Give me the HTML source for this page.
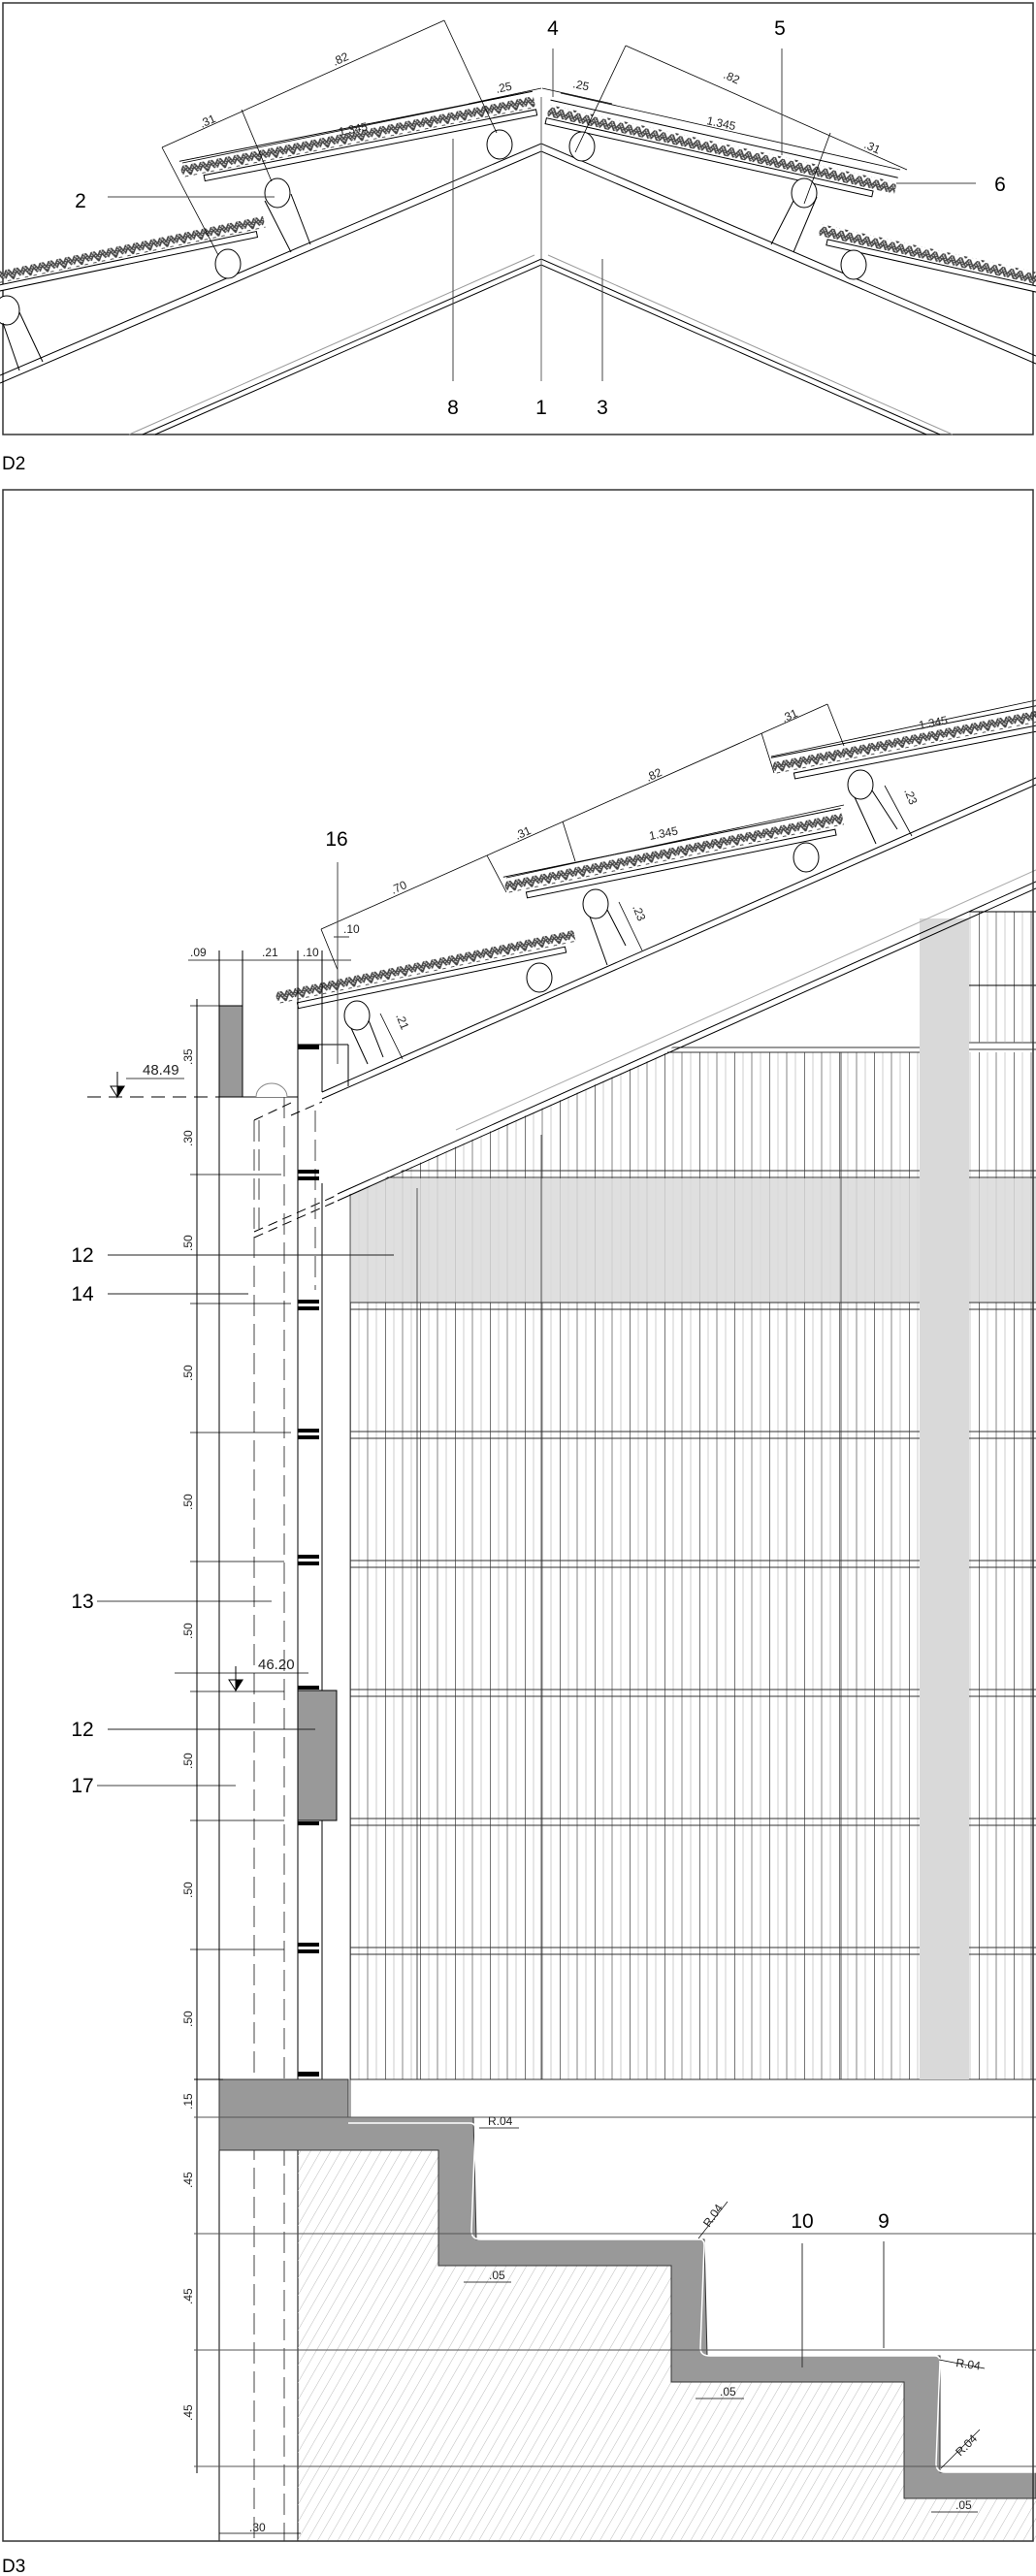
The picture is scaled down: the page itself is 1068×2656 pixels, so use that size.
<!DOCTYPE html>
<html><head><meta charset="utf-8"><style>
html,body{margin:0;padding:0;background:#fff;}
svg{display:block;font-family:"Liberation Sans",sans-serif;}
</style></head><body>
<svg width="1068" height="2656" viewBox="0 0 1068 2656" xmlns="http://www.w3.org/2000/svg">
<defs>
<pattern id="corr" width="18" height="12" patternUnits="userSpaceOnUse">
<path d="M0,9 L4.5,2 L9,9 L13.5,2 L18,9" fill="none" stroke="#444" stroke-width="4.5"/>
<path d="M0,9 L4.5,2 L9,9 L13.5,2 L18,9" fill="none" stroke="#ddd" stroke-width="1.5" stroke-dasharray="1.2 1.2"/>
</pattern>
<pattern id="hatch" width="9" height="9" patternUnits="userSpaceOnUse" patternTransform="rotate(30)">
<line x1="0" y1="0" x2="0" y2="9" stroke="#aaa" stroke-width="0.8"/>
</pattern>
<pattern id="slats" x="361" width="36" height="10" patternUnits="userSpaceOnUse">
<line x1="0.5" y1="0" x2="0.5" y2="10" stroke="#666" stroke-width="0.9"/>
<line x1="9" y1="0" x2="9" y2="10" stroke="#aaa" stroke-width="0.6"/>
<line x1="18" y1="0" x2="18" y2="10" stroke="#666" stroke-width="0.8"/>
<line x1="27" y1="0" x2="27" y2="10" stroke="#aaa" stroke-width="0.6"/>
</pattern>
</defs>
<g fill="none" stroke="#000" stroke-width="1">

<!-- ========== D2 ========== -->
<rect x="3" y="3" width="1062" height="445" stroke="#333" stroke-width="1.5"/>
<polyline points="0,387 558,148 1068,367"/>
<polyline points="0,395 558,156 1068,375"/>
<polyline points="133,448 551,263" stroke="#999"/>
<polyline points="565,263 982,448" stroke="#999"/>
<polyline points="147,448 558,267 969,448"/>
<polyline points="160,448 558,273 955,448"/>
<line x1="558" y1="100" x2="558" y2="393" stroke="#666"/>
<g transform="translate(188,182) rotate(-11.2)"><rect x="0" y="-11" width="371" height="12" fill="url(#corr)" stroke="none"/><line x1="0" y1="-16" x2="371" y2="-16"/><rect x="22" y="3" width="349" height="6" fill="#fff"/></g>
<g transform="translate(-30,297) rotate(-11.8)"><rect x="0" y="-11" width="310" height="12" fill="url(#corr)" stroke="none"/><rect x="0" y="3" width="300" height="6" fill="#fff"/></g>
<g transform="translate(566,110) rotate(12.6)"><rect x="0" y="-2" width="367" height="12" fill="url(#corr)" stroke="none"/><line x1="0" y1="-7" x2="367" y2="-7"/><rect x="0" y="12" width="345" height="6" fill="#fff"/></g>
<g transform="translate(846,233) rotate(12.6)"><rect x="0" y="-2" width="260" height="12" fill="url(#corr)" stroke="none"/><rect x="10" y="12" width="260" height="6" fill="#fff"/></g>
<g fill="#fff">
<ellipse cx="515" cy="149" rx="13" ry="15"/><ellipse cx="600" cy="151" rx="13" ry="15"/>
<ellipse cx="286" cy="199" rx="13" ry="15"/><ellipse cx="829" cy="199" rx="13" ry="15"/>
<ellipse cx="235" cy="272" rx="13" ry="15"/><ellipse cx="880" cy="273" rx="13" ry="15"/>
<ellipse cx="7" cy="320" rx="13" ry="15"/>
</g>
<line x1="273" y1="207" x2="300" y2="260"/><line x1="300" y1="200" x2="320" y2="252"/>
<line x1="818" y1="207" x2="795" y2="252"/><line x1="842" y1="203" x2="818" y2="260"/>
<line x1="3" y1="333" x2="20" y2="382"/><line x1="20" y1="322" x2="44" y2="373"/>
<g stroke-width="0.8">
<line x1="167" y1="152" x2="458" y2="21"/>
<line x1="458" y1="21" x2="512" y2="137"/>
<line x1="167" y1="152" x2="225" y2="263"/>
<line x1="249" y1="113" x2="280" y2="187"/>
<line x1="483" y1="107" x2="558" y2="91"/><line x1="559" y1="91" x2="631" y2="107"/>
<line x1="645" y1="47" x2="935" y2="175"/>
<line x1="645" y1="47" x2="593" y2="157"/>
<line x1="856" y1="137" x2="829" y2="210"/>
<line x1="188" y1="168" x2="540" y2="96"/>
<line x1="578" y1="96" x2="928" y2="175"/>
</g>
<g stroke="#444">
<line x1="570" y1="50" x2="570" y2="100"/>
<line x1="806" y1="50" x2="806" y2="160"/>
<line x1="924" y1="189" x2="1006" y2="189"/>
<line x1="111" y1="203" x2="283" y2="203"/>
<line x1="467" y1="143" x2="467" y2="393"/>
<line x1="621" y1="267" x2="621" y2="393"/>
</g>
</g>
<g font-size="12" fill="#222">
<text transform="translate(208,132) rotate(-24)">.31</text>
<text transform="translate(345,68) rotate(-24)">.82</text>
<text transform="translate(350,140) rotate(-11)">1.345</text>
<text transform="translate(512,96) rotate(-12)">.25</text>
<text transform="translate(590,90) rotate(12)">.25</text>
<text transform="translate(745,80) rotate(24)">.82</text>
<text transform="translate(728,128) rotate(12)">1.345</text>
<text transform="translate(890,152) rotate(24)">.31</text>
</g>
<g font-size="21" fill="#000" text-anchor="middle">
<text x="570" y="36">4</text><text x="804" y="36">5</text><text x="1031" y="197">6</text>
<text x="83" y="214">2</text><text x="467" y="427">8</text><text x="558" y="427">1</text><text x="621" y="427">3</text>
</g>
<text x="2" y="484" font-size="19">D2</text>

<!-- ========== D3 ========== -->
<g fill="none" stroke="#000" stroke-width="1">
<polygon points="361,1231 688,1085 948,1085 948,2144 361,2144" fill="url(#slats)" stroke="none"/>
<rect x="999" y="1085" width="69" height="1059" fill="url(#slats)" stroke="none"/>
<rect x="361" y="1215" width="587" height="128" fill="#d9d9d9" opacity="0.85" stroke="none"/>
<rect x="999" y="1215" width="69" height="128" fill="#d9d9d9" opacity="0.85" stroke="none"/>
<g stroke="#555">
<line x1="430" y1="1225" x2="430" y2="2144"/><line x1="558" y1="1170" x2="558" y2="2144"/>
<line x1="867" y1="1085" x2="867" y2="2144"/><line x1="361" y1="1231" x2="361" y2="2183"/>
</g>
<g stroke="#333">
<line x1="688" y1="1080" x2="948" y2="1080"/><line x1="688" y1="1085" x2="948" y2="1085"/>
<line x1="999" y1="1075" x2="1068" y2="1075"/><line x1="999" y1="1082" x2="1068" y2="1082"/>
<line x1="395" y1="1207" x2="1068" y2="1207"/><line x1="380" y1="1214" x2="1068" y2="1214"/>
<line x1="361" y1="1343" x2="1068" y2="1343"/><line x1="361" y1="1350" x2="1068" y2="1350"/>
<line x1="361" y1="1476" x2="1068" y2="1476"/><line x1="361" y1="1483" x2="1068" y2="1483"/>
<line x1="361" y1="1609" x2="1068" y2="1609"/><line x1="361" y1="1616" x2="1068" y2="1616"/>
<line x1="361" y1="1742" x2="1068" y2="1742"/><line x1="361" y1="1749" x2="1068" y2="1749"/>
<line x1="361" y1="1875" x2="1068" y2="1875"/><line x1="361" y1="1882" x2="1068" y2="1882"/>
<line x1="361" y1="2008" x2="1068" y2="2008"/><line x1="361" y1="2015" x2="1068" y2="2015"/>
<line x1="361" y1="2144" x2="1068" y2="2144"/>
</g>
<polygon points="355,1100 1068,790 1068,909 361,1231" fill="#fff" stroke="none"/>
<rect x="948" y="947" width="51" height="1197" fill="#d9d9d9" stroke="none"/>
<rect x="999" y="940" width="69" height="135" fill="url(#slats)" stroke="none"/>
<line x1="999" y1="940" x2="1068" y2="940"/><line x1="999" y1="1016" x2="1068" y2="1016"/>
<line x1="348" y1="1231" x2="1068" y2="909"/>
<line x1="348" y1="1238" x2="1068" y2="916"/>
<line x1="470" y1="1165" x2="1068" y2="897" stroke="#aaa"/>
<line x1="332" y1="1126" x2="1068" y2="802"/>
<line x1="332" y1="1133" x2="1068" y2="809"/>
<line x1="262" y1="1270" x2="348" y2="1232" stroke-dasharray="10 6"/>
<line x1="262" y1="1276" x2="348" y2="1238" stroke-dasharray="10 6"/>
<line x1="300" y1="1150" x2="332" y2="1136" stroke-dasharray="10 6"/>
<g transform="translate(286,1034) rotate(-11.8)"><rect x="0" y="-11" width="314" height="12" fill="url(#corr)" stroke="none"/><rect x="20" y="4" width="282" height="6" fill="#fff"/></g>
<g transform="translate(522,920) rotate(-11.5)"><rect x="0" y="-11" width="355" height="12" fill="url(#corr)" stroke="none"/><line x1="0" y1="-16" x2="355" y2="-16"/><rect x="20" y="4" width="325" height="6" fill="#fff"/></g>
<g transform="translate(798,797) rotate(-11.1)"><rect x="0" y="-11" width="300" height="12" fill="url(#corr)" stroke="none"/><line x1="0" y1="-16" x2="300" y2="-16"/><rect x="20" y="4" width="300" height="6" fill="#fff"/></g>
<g fill="#fff">
<ellipse cx="368" cy="1047" rx="13" ry="15"/><ellipse cx="556" cy="1008" rx="13" ry="15"/>
<ellipse cx="614" cy="932" rx="13" ry="15"/><ellipse cx="831" cy="884" rx="13" ry="15"/>
<ellipse cx="887" cy="809" rx="13" ry="15"/>
</g>
<line x1="362" y1="1060" x2="379" y2="1097"/><line x1="380" y1="1052" x2="395" y2="1090"/>
<line x1="608" y1="945" x2="626" y2="995"/><line x1="626" y1="938" x2="645" y2="975"/>
<line x1="881" y1="822" x2="903" y2="870"/><line x1="899" y1="815" x2="925" y2="855"/>
<g stroke-width="0.8">
<line x1="331" y1="958" x2="853" y2="726"/>
<line x1="331" y1="958" x2="348" y2="1000"/>
<line x1="502" y1="882" x2="522" y2="920"/>
<line x1="580" y1="847" x2="593" y2="888"/>
<line x1="785" y1="756" x2="798" y2="797"/>
<line x1="853" y1="726" x2="870" y2="769"/>
<line x1="522" y1="905" x2="870" y2="830"/>
<line x1="795" y1="780" x2="1068" y2="722"/>
<line x1="392" y1="1045" x2="415" y2="1092"/>
<line x1="638" y1="930" x2="662" y2="980"/>
<line x1="912" y1="810" x2="940" y2="862"/>
<line x1="194" y1="990" x2="362" y2="990"/>
<line x1="344" y1="966" x2="360" y2="966"/>
<line x1="348" y1="960" x2="348" y2="990"/>
</g>
<line x1="226" y1="980" x2="226" y2="2620"/>
<line x1="250" y1="980" x2="250" y2="1037"/>
<line x1="307" y1="980" x2="307" y2="2620"/>
<line x1="332" y1="980" x2="332" y2="1126"/>
<line x1="332" y1="1220" x2="332" y2="2144"/>
<line x1="307" y1="1077" x2="359" y2="1077"/>
<line x1="359" y1="1077" x2="359" y2="1120"/>
<line x1="348" y1="889" x2="348" y2="1097" stroke="#444"/>
<rect x="226" y="1037" width="24" height="94" fill="#999"/>
<line x1="90" y1="1131" x2="307" y2="1131" stroke-dasharray="14 8"/>
<line x1="250" y1="1131" x2="307" y2="1131"/>
<path d="M264,1131 a16,14 0 0 1 32,0" fill="#fff" stroke="#888"/>
<line x1="262" y1="1155" x2="262" y2="2620" stroke-dasharray="22 8" stroke="#444"/>
<line x1="267" y1="1155" x2="267" y2="1270" stroke-dasharray="22 8" stroke="#444"/>
<line x1="293" y1="1131" x2="293" y2="2620" stroke-dasharray="22 8" stroke="#444"/>
<line x1="262" y1="1155" x2="300" y2="1137" stroke-dasharray="10 6"/>
<line x1="325" y1="1145" x2="325" y2="1330" stroke-dasharray="22 8" stroke="#444"/>
<line x1="203" y1="1030" x2="203" y2="2550"/>
<g stroke-width="0.8">
<line x1="196" y1="1037" x2="230" y2="1037"/>
<line x1="196" y1="1211" x2="290" y2="1211"/><line x1="196" y1="1344" x2="300" y2="1344"/>
<line x1="196" y1="1477" x2="300" y2="1477"/><line x1="196" y1="1610" x2="293" y2="1610"/>
<line x1="196" y1="1744" x2="293" y2="1744"/><line x1="196" y1="1877" x2="293" y2="1877"/>
<line x1="196" y1="2010" x2="293" y2="2010"/>
<line x1="100" y1="1651" x2="280" y2="1651"/>
<line x1="100" y1="1841" x2="243" y2="1841"/>
<line x1="180" y1="1725" x2="318" y2="1725"/>
<line x1="130" y1="1112" x2="190" y2="1112"/>
</g>
<path d="M114,1120 h14 l-7,11 z" fill="#fff"/><path d="M121,1120 h7 l-7,11 z" fill="#000"/>
<path d="M236,1732 h14 l-7,11 z" fill="#fff"/><path d="M243,1732 h7 l-7,11 z" fill="#000"/>
<line x1="243" y1="1718" x2="243" y2="1732"/>
<line x1="121" y1="1105" x2="121" y2="1120"/>
<rect x="307" y="1743" width="40" height="134" fill="#999"/>
<g fill="#000" stroke="none">
<rect x="307" y="1077" width="22" height="5"/>
<rect x="307" y="1206" width="22" height="4"/><rect x="307" y="1213" width="22" height="4"/>
<rect x="307" y="1340" width="22" height="4"/><rect x="307" y="1347" width="22" height="4"/>
<rect x="307" y="1473" width="22" height="4"/><rect x="307" y="1480" width="22" height="4"/>
<rect x="307" y="1603" width="22" height="4"/><rect x="307" y="1610" width="22" height="4"/>
<rect x="307" y="1738" width="22" height="4"/>
<rect x="307" y="1878" width="22" height="4"/>
<rect x="307" y="2003" width="22" height="4"/><rect x="307" y="2010" width="22" height="4"/>
<rect x="307" y="2136" width="22" height="5"/>
</g>
<g stroke="#222">
<line x1="111" y1="1294" x2="406" y2="1294"/>
<line x1="111" y1="1334" x2="256" y2="1334"/>
<line x1="111" y1="1783" x2="325" y2="1783"/>
</g>
<polygon points="307,2217 452,2217 452,2336 692,2336 692,2456 932,2456 932,2576 1068,2576 1068,2620 307,2620" fill="url(#hatch)" stroke="none"/>
<path d="M226,2144 H359 V2183 H488 L491,2309 H726 L729,2429 H969 L969,2549 H1068 V2576 H932 V2456 H692 V2336 H452 V2217 H307 V2217 H226 Z" fill="#999" stroke="#333"/>
<path d="M359,2189 H484 q6,0 6,6 L486,2300 q0,9 10,9 H722 q4,0 4,6 L722,2421 q0,8 10,8 H964 q5,0 5,6 L965,2540 q0,9 10,9 H1068" fill="none" stroke="#fff" stroke-width="1.5"/>
<line x1="200" y1="2183" x2="1068" y2="2183" stroke="#555"/>
<line x1="200" y1="2303" x2="1068" y2="2303" stroke="#555"/>
<line x1="200" y1="2423" x2="1068" y2="2423" stroke="#555"/>
<line x1="200" y1="2543" x2="1068" y2="2543" stroke="#555"/>
<line x1="200" y1="2144" x2="230" y2="2144"/>
<line x1="226" y1="2612" x2="310" y2="2612" stroke-width="0.8"/>
<line x1="827" y1="2313" x2="827" y2="2441" stroke="#333"/>
<line x1="911" y1="2311" x2="911" y2="2421" stroke="#333"/>
<g stroke-width="0.7">
<line x1="494" y1="2194" x2="535" y2="2194"/>
<line x1="478" y1="2353" x2="527" y2="2353"/>
<line x1="717" y1="2473" x2="767" y2="2473"/>
<line x1="960" y1="2590" x2="1008" y2="2590"/>
<line x1="720" y1="2308" x2="750" y2="2270"/>
<line x1="968" y1="2433" x2="1015" y2="2442"/>
<line x1="970" y1="2545" x2="1010" y2="2505"/>
</g>
<rect x="3" y="505" width="1062" height="2115" stroke="#333" stroke-width="1.5"/>
</g>
<g font-size="12" fill="#222">
<text transform="translate(405,922) rotate(-24)">.70</text>
<text transform="translate(533,866) rotate(-24)">.31</text>
<text transform="translate(668,806) rotate(-24)">.82</text>
<text transform="translate(808,745) rotate(-24)">.31</text>
<text transform="translate(670,866) rotate(-11)">1.345</text>
<text transform="translate(948,752) rotate(-11)">1.345</text>
<text transform="translate(652,935) rotate(68)">.23</text>
<text transform="translate(932,815) rotate(68)">.23</text>
<text transform="translate(408,1047) rotate(68)">.21</text>
<text x="196" y="986">.09</text><text x="270" y="986">.21</text><text x="312" y="986">.10</text><text x="354" y="962">.10</text>
<text x="147" y="1108" font-size="15">48.49</text>
<text x="266" y="1721" font-size="15">46.20</text>
<text transform="translate(198,1098) rotate(-90)">.35</text>
<text transform="translate(198,1182) rotate(-90)">.30</text>
<text transform="translate(198,1290) rotate(-90)">.50</text>
<text transform="translate(198,1424) rotate(-90)">.50</text>
<text transform="translate(198,1557) rotate(-90)">.50</text>
<text transform="translate(198,1690) rotate(-90)">.50</text>
<text transform="translate(198,1824) rotate(-90)">.50</text>
<text transform="translate(198,1957) rotate(-90)">.50</text>
<text transform="translate(198,2090) rotate(-90)">.50</text>
<text transform="translate(198,2175) rotate(-90)">.15</text>
<text transform="translate(198,2256) rotate(-90)">.45</text>
<text transform="translate(198,2376) rotate(-90)">.45</text>
<text transform="translate(198,2496) rotate(-90)">.45</text>
<text x="257" y="2610">.30</text>
<text x="503" y="2191">R.04</text>
<text transform="translate(731,2297) rotate(-55)">R.04</text>
<text transform="translate(985,2440) rotate(8)">R.04</text>
<text transform="translate(990,2533) rotate(-45)">R.04</text>
<text x="504" y="2350">.05</text>
<text x="742" y="2470">.05</text>
<text x="985" y="2587">.05</text>
</g>
<g font-size="21" fill="#000" text-anchor="middle">
<text x="347" y="872">16</text>
<text x="85" y="1301">12</text><text x="85" y="1341">14</text>
<text x="85" y="1658">13</text><text x="85" y="1790">12</text><text x="85" y="1848">17</text>
<text x="827" y="2297">10</text><text x="911" y="2297">9</text>
</g>
<text x="2" y="2652" font-size="19">D3</text>
</svg>
</body></html>
